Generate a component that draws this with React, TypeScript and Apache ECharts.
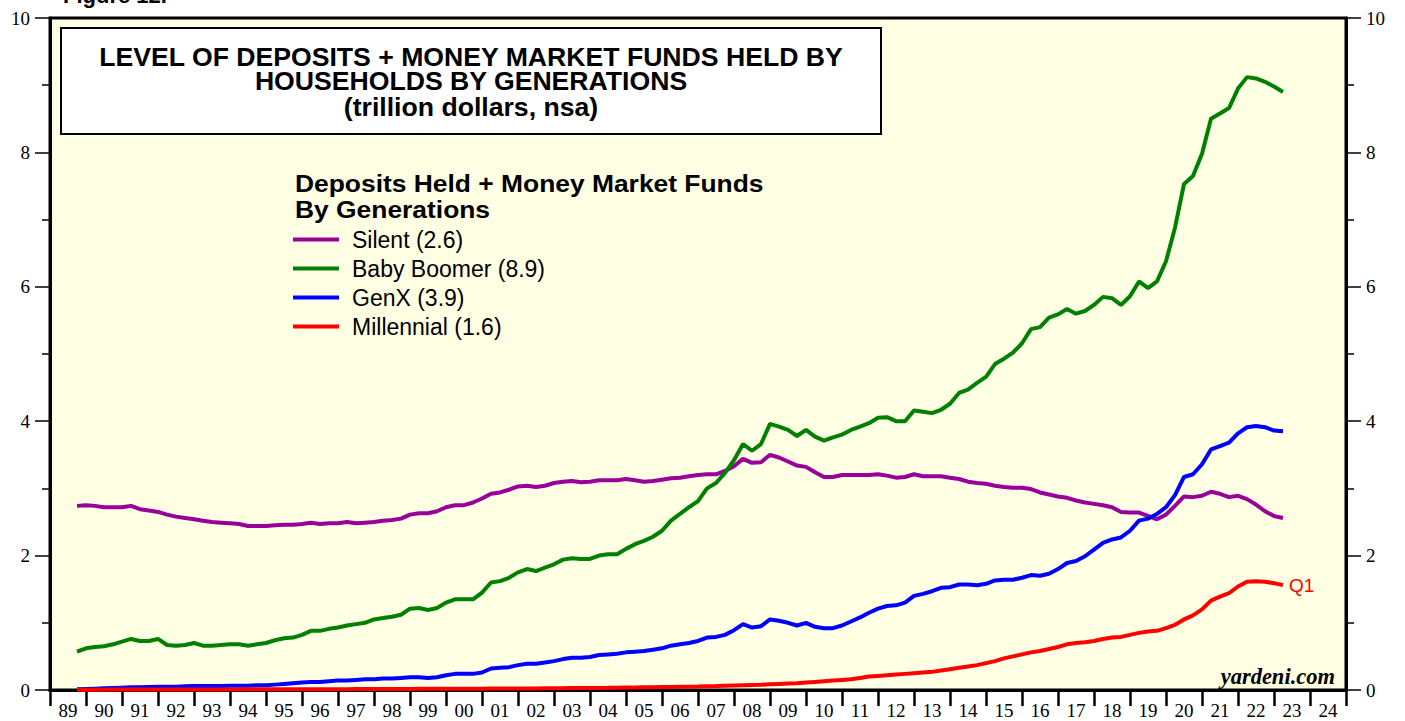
import React, { useEffect, useRef } from "react";
import * as echarts from "echarts";

// Year tick labels (one per calendar year, label centred in the year)
const yearLabels = [
  "89", "90", "91", "92", "93", "94", "95", "96", "97", "98", "99", "00",
  "01", "02", "03", "04", "05", "06", "07", "08", "09", "10", "11", "12",
  "13", "14", "15", "16", "17", "18", "19", "20", "21", "22", "23", "24",
];

// Quarter-end dates, 1989 Q3 .. 2023 Q1 (decimal years)
const quarterDates: number[] = Array.from({ length: 135 }, (_, i) => 1989.75 + i * 0.25);

const silent = [
  2.74, 2.75, 2.74, 2.72, 2.72, 2.72, 2.74, 2.69, 2.67, 2.65,
  2.61, 2.58, 2.56, 2.54, 2.52, 2.50, 2.49, 2.48, 2.47, 2.44,
  2.44, 2.44, 2.45, 2.46, 2.46, 2.47, 2.49, 2.47, 2.48, 2.48,
  2.50, 2.48, 2.49, 2.50, 2.52, 2.53, 2.55, 2.61, 2.63, 2.63,
  2.66, 2.72, 2.75, 2.75, 2.79, 2.85, 2.92, 2.94, 2.98, 3.03,
  3.04, 3.02, 3.04, 3.08, 3.10, 3.11, 3.09, 3.10, 3.12, 3.12,
  3.12, 3.14, 3.12, 3.10, 3.11, 3.13, 3.15, 3.16, 3.18, 3.20,
  3.21, 3.21, 3.26, 3.33, 3.44, 3.38, 3.39, 3.50, 3.46, 3.40,
  3.34, 3.32, 3.24, 3.17, 3.17, 3.20, 3.20, 3.20, 3.20, 3.21,
  3.19, 3.16, 3.17, 3.21, 3.18, 3.18, 3.18, 3.16, 3.14, 3.10,
  3.08, 3.07, 3.04, 3.02, 3.01, 3.01, 2.99, 2.94, 2.91, 2.88,
  2.86, 2.82, 2.79, 2.77, 2.75, 2.72, 2.65, 2.64, 2.64, 2.59,
  2.54, 2.61, 2.74, 2.88, 2.87, 2.89, 2.95, 2.92, 2.87, 2.89,
  2.84, 2.76, 2.66, 2.59, 2.56,
];

const babyBoomer = [
  0.57, 0.62, 0.64, 0.65, 0.68, 0.72, 0.76, 0.73, 0.73, 0.76,
  0.67, 0.66, 0.67, 0.70, 0.66, 0.66, 0.67, 0.68, 0.68, 0.66,
  0.68, 0.70, 0.74, 0.77, 0.78, 0.82, 0.88, 0.88, 0.91, 0.93,
  0.96, 0.98, 1.00, 1.05, 1.07, 1.09, 1.12, 1.21, 1.22, 1.19,
  1.22, 1.30, 1.35, 1.35, 1.35, 1.45, 1.60, 1.62, 1.67, 1.75,
  1.80, 1.77, 1.82, 1.87, 1.94, 1.96, 1.95, 1.95, 2.00, 2.02,
  2.02, 2.10, 2.17, 2.22, 2.28, 2.37, 2.52, 2.62, 2.72, 2.81,
  3.00, 3.08, 3.23, 3.42, 3.66, 3.56, 3.66, 3.96, 3.92, 3.87,
  3.78, 3.87, 3.77, 3.71, 3.76, 3.80, 3.87, 3.92, 3.97, 4.05,
  4.06, 4.00, 4.00, 4.16, 4.14, 4.12, 4.17, 4.26, 4.42, 4.47,
  4.57, 4.66, 4.85, 4.93, 5.02, 5.16, 5.37, 5.40, 5.54, 5.59,
  5.67, 5.60, 5.64, 5.73, 5.85, 5.83, 5.73, 5.86, 6.08, 5.98,
  6.08, 6.38, 6.88, 7.53, 7.65, 7.98, 8.50, 8.58, 8.66, 8.95,
  9.12, 9.10, 9.05, 8.98, 8.90,
];

const genX = [
  0.010, 0.015, 0.020, 0.025, 0.030, 0.035, 0.040, 0.040, 0.045, 0.050,
  0.050, 0.050, 0.055, 0.060, 0.060, 0.060, 0.060, 0.065, 0.065, 0.065,
  0.070, 0.070, 0.080, 0.090, 0.100, 0.110, 0.120, 0.120, 0.130, 0.140,
  0.140, 0.150, 0.160, 0.160, 0.170, 0.170, 0.180, 0.190, 0.190, 0.180,
  0.19, 0.22, 0.24, 0.24, 0.24, 0.26, 0.32, 0.33, 0.34, 0.37,
  0.39, 0.39, 0.41, 0.43, 0.46, 0.48, 0.48, 0.49, 0.52, 0.53,
  0.54, 0.56, 0.57, 0.58, 0.60, 0.62, 0.66, 0.68, 0.70, 0.73,
  0.78, 0.79, 0.82, 0.89, 0.98, 0.93, 0.95, 1.05, 1.03, 1.00,
  0.96, 1.00, 0.94, 0.92, 0.92, 0.96, 1.02, 1.08, 1.15, 1.21,
  1.25, 1.26, 1.30, 1.40, 1.43, 1.47, 1.52, 1.53, 1.57, 1.57,
  1.56, 1.58, 1.63, 1.64, 1.64, 1.67, 1.71, 1.70, 1.73, 1.80,
  1.89, 1.92, 1.99, 2.09, 2.19, 2.24, 2.27, 2.37, 2.52, 2.55,
  2.62, 2.72, 2.90, 3.17, 3.21, 3.36, 3.58, 3.63, 3.68, 3.82,
  3.91, 3.93, 3.91, 3.86, 3.85,
];

const millennial = [
  0.005, 0.005, 0.005, 0.005, 0.006, 0.006, 0.006, 0.006, 0.007, 0.007,
  0.007, 0.008, 0.008, 0.008, 0.008, 0.009, 0.009, 0.009, 0.010, 0.010,
  0.010, 0.010, 0.010, 0.011, 0.011, 0.012, 0.012, 0.012, 0.013, 0.013,
  0.013, 0.014, 0.014, 0.015, 0.015, 0.015, 0.016, 0.016, 0.017, 0.017,
  0.018, 0.018, 0.019, 0.019, 0.020, 0.020, 0.021, 0.021, 0.022, 0.022,
  0.023, 0.024, 0.025, 0.026, 0.027, 0.028, 0.029, 0.030, 0.031, 0.032,
  0.034, 0.036, 0.038, 0.040, 0.042, 0.044, 0.046, 0.048, 0.050, 0.052,
  0.055, 0.058, 0.062, 0.066, 0.070, 0.074, 0.078, 0.085, 0.090, 0.095,
  0.10, 0.11, 0.12, 0.13, 0.14, 0.15, 0.16, 0.18, 0.20, 0.21,
  0.22, 0.23, 0.24, 0.25, 0.26, 0.27, 0.29, 0.31, 0.33, 0.35,
  0.37, 0.40, 0.43, 0.47, 0.50, 0.53, 0.56, 0.58, 0.61, 0.64,
  0.68, 0.70, 0.71, 0.73, 0.76, 0.78, 0.79, 0.82, 0.85, 0.87,
  0.88, 0.92, 0.97, 1.05, 1.11, 1.20, 1.33, 1.39, 1.44, 1.54,
  1.61, 1.62, 1.61, 1.59, 1.56,
];

const seriesNames = ["Silent (2.6)", "Baby Boomer (8.9)", "GenX (3.9)", "Millennial (1.6)"];
const seriesColors = ["#990099", "#008000", "#0000ff", "#ff0000"];
const seriesValues = [silent, babyBoomer, genX, millennial];

const SANS = '"Liberation Sans", Arial, Helvetica, sans-serif';
const SERIF = '"Liberation Serif", "Times New Roman", serif';

export default function App() {
  const ref = useRef<HTMLDivElement>(null);

  useEffect(() => {
    if (!ref.current) return;
    const chart = echarts.init(ref.current, undefined, { renderer: "svg" });

    const yAxisCommon = {
      type: "value" as const,
      min: 0,
      max: 10,
      interval: 2,
      axisLine: { show: true, lineStyle: { color: "#000", width: 3 } },
      axisTick: { show: true, inside: false, length: 15, lineStyle: { color: "#000", width: 1.5 } },
      minorTick: { show: true, splitNumber: 2, length: 8, lineStyle: { color: "#000", width: 1.5 } },
      splitLine: { show: false },
      minorSplitLine: { show: false },
      axisLabel: { color: "#000", fontSize: 19, fontFamily: SERIF, margin: 20 },
    };

    const titleText = (text: string, y: number) => ({
      type: "text",
      x: 471,
      y,
      z: 11,
      scaleX: 1.065,
      style: {
        text,
        font: `bold 25px ${SANS}`,
        fill: "#000",
        align: "center",
        verticalAlign: "middle",
      },
    });

    const legendTitle = (text: string, y: number) => ({
      type: "text",
      x: 295,
      y,
      z: 11,
      scaleX: 1.1,
      style: {
        text,
        font: `bold 24px ${SANS}`,
        fill: "#000",
        align: "left",
        verticalAlign: "middle",
      },
    });

    const option: any = {
      animation: false,
      backgroundColor: "#ffffff",
      grid: {
        left: 50,
        right: 59,
        top: 18,
        bottom: 31,
        show: true,
        backgroundColor: "#FFFFE4",
        borderColor: "#000",
        borderWidth: 3,
        containLabel: false,
        outerBoundsMode: "none",
      },
      legend: {
        orient: "vertical",
        left: 293,
        top: 228,
        padding: 0,
        itemWidth: 46,
        itemHeight: 4,
        itemGap: 6,
        icon: "rect",
        selectedMode: false,
        textStyle: { color: "#000", fontSize: 23, fontFamily: SANS, padding: [0, 0, 0, 8] },
        data: seriesNames,
      },
      xAxis: [
        {
          type: "category",
          data: yearLabels,
          boundaryGap: true,
          position: "bottom",
          axisLine: { show: true, lineStyle: { color: "#000", width: 3 } },
          axisTick: { show: true, inside: false, length: 16, lineStyle: { color: "#000", width: 2.5 } },
          axisLabel: { color: "#000", fontSize: 19, fontFamily: SERIF, margin: 11, interval: 0 },
          splitLine: { show: false },
        },
        {
          type: "value",
          min: 1989,
          max: 2025,
          show: false,
          splitLine: { show: false },
        },
      ],
      yAxis: [
        { ...yAxisCommon, position: "left" },
        { ...yAxisCommon, position: "right" },
      ],
      series: seriesNames.map((name, k) => ({
        name,
        type: "line",
        xAxisIndex: 1,
        yAxisIndex: 0,
        showSymbol: false,
        symbol: "none",
        lineStyle: { color: seriesColors[k], width: 4 },
        itemStyle: { color: seriesColors[k] },
        data: quarterDates.map((d, i) => [d, seriesValues[k][i]]),
        endLabel:
          k === 3
            ? { show: true, formatter: "Q1", color: "#ff0000", fontSize: 19, fontFamily: SANS, distance: 6 }
            : { show: false },
      })),
      graphic: [
        {
          type: "text",
          left: 63,
          top: -16,
          style: { text: "Figure 12.", font: `bold 22px ${SANS}`, fill: "#000" },
        },
        {
          type: "rect",
          shape: { x: 61, y: 28, width: 820, height: 106 },
          style: { fill: "#ffffff", stroke: "#000", lineWidth: 2 },
          z: 10,
        },
        titleText("LEVEL OF DEPOSITS + MONEY MARKET FUNDS HELD BY", 57),
        titleText("HOUSEHOLDS BY GENERATIONS", 81),
        titleText("(trillion dollars, nsa)", 107),
        legendTitle("Deposits Held + Money Market Funds", 183),
        legendTitle("By Generations", 209),
        {
          type: "text",
          x: 1335,
          y: 676,
          z: 11,
          style: {
            text: "yardeni.com",
            font: `italic bold 22.5px ${SERIF}`,
            fill: "#000",
            align: "right",
            verticalAlign: "middle",
          },
        },
      ],
    };

    chart.setOption(option);
    return () => chart.dispose();
  }, []);

  return (
    <div
      ref={ref}
      style={{ position: "fixed", left: 0, top: 0, width: 1405, height: 721 }}
    />
  );
}
